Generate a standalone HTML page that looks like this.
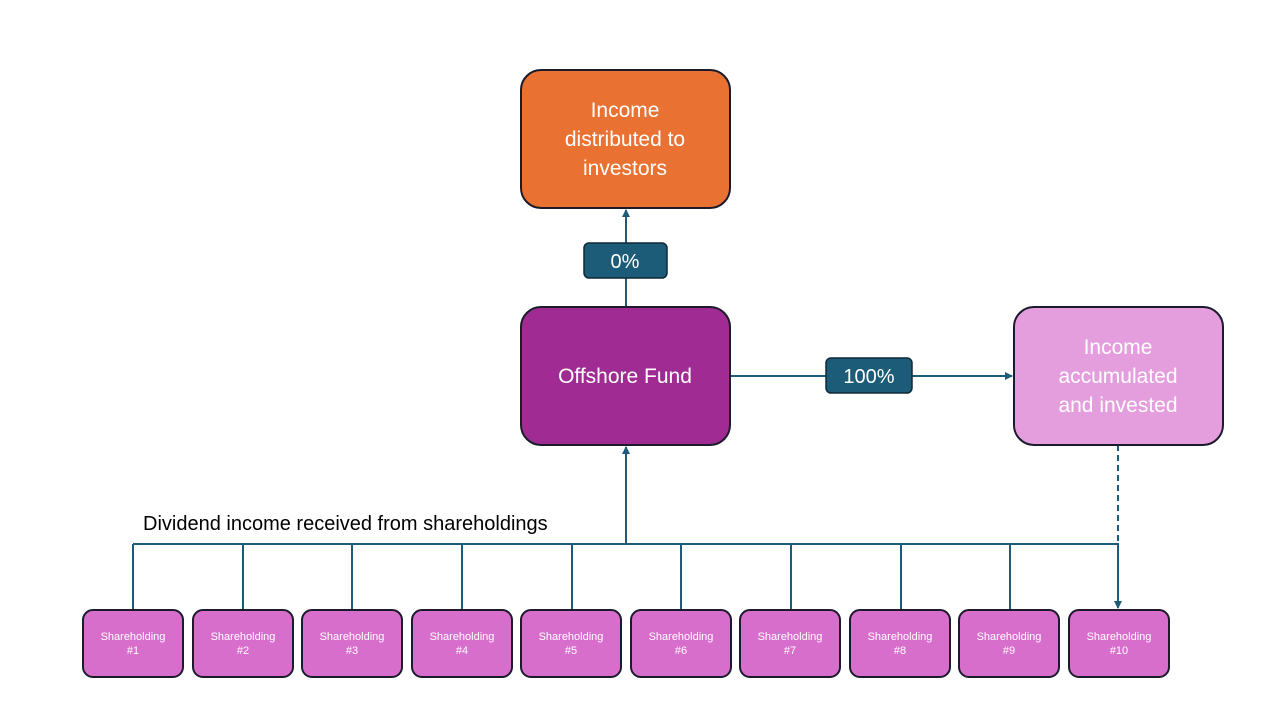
<!DOCTYPE html>
<html><head><style>
body{margin:0;background:#fff;width:1280px;height:720px;overflow:hidden;font-family:"Liberation Sans",sans-serif;}
</style></head><body>
<svg width="1280" height="720" xmlns="http://www.w3.org/2000/svg" font-family="Liberation Sans, sans-serif">
<defs><marker id="a" markerWidth="8" markerHeight="8" refX="7" refY="4" orient="auto" markerUnits="userSpaceOnUse"><path d="M0,0 L8,4 L0,8 z" fill="#1d5c78"/></marker></defs>
<g stroke="#1d5c78" stroke-width="2" fill="none">
<line x1="626" y1="307" x2="626" y2="210" marker-end="url(#a)"/>
<line x1="730" y1="376" x2="1012" y2="376" marker-end="url(#a)"/>
<line x1="626" y1="544" x2="626" y2="447" marker-end="url(#a)"/>
<line x1="133" y1="544" x2="1119" y2="544"/>
<line x1="1118" y1="445" x2="1118" y2="544" stroke-dasharray="6,4"/>
<line x1="1118" y1="544" x2="1118" y2="608" marker-end="url(#a)"/>
<line x1="133" y1="544" x2="133" y2="610"/><line x1="243" y1="544" x2="243" y2="610"/>
<line x1="352" y1="544" x2="352" y2="610"/><line x1="462" y1="544" x2="462" y2="610"/>
<line x1="572" y1="544" x2="572" y2="610"/><line x1="681" y1="544" x2="681" y2="610"/>
<line x1="791" y1="544" x2="791" y2="610"/><line x1="901" y1="544" x2="901" y2="610"/>
<line x1="1010" y1="544" x2="1010" y2="610"/>
</g>
<rect x="521" y="70" width="209" height="138" rx="20" fill="#e97132" stroke="#1b1b2b" stroke-width="2"/>
<text fill="#fff" font-size="21" text-anchor="middle"><tspan x="625" y="117">Income</tspan><tspan x="625" y="146">distributed to</tspan><tspan x="625" y="175">investors</tspan></text>
<rect x="521" y="307" width="209" height="138" rx="20" fill="#a02b93" stroke="#1b1b2b" stroke-width="2"/>
<text x="625" y="383" fill="#fff" font-size="21" text-anchor="middle">Offshore Fund</text>
<rect x="1014" y="307" width="209" height="138" rx="20" fill="#e49edd" stroke="#1b1b2b" stroke-width="2"/>
<text fill="#fff" font-size="21" text-anchor="middle"><tspan x="1118" y="354">Income</tspan><tspan x="1118" y="383">accumulated</tspan><tspan x="1118" y="412">and invested</tspan></text>
<rect x="584" y="243" width="83" height="35" rx="5" fill="#1d5c78" stroke="#0e2a38" stroke-width="1.5"/>
<text x="625" y="268" fill="#fff" font-size="20" text-anchor="middle">0%</text>
<rect x="826" y="358" width="86" height="35" rx="5" fill="#1d5c78" stroke="#0e2a38" stroke-width="1.5"/>
<text x="869" y="383" fill="#fff" font-size="20" text-anchor="middle">100%</text>
<text x="143" y="530" fill="#000" font-size="20">Dividend income received from shareholdings</text>
<g font-size="11" fill="#fff" text-anchor="middle">
<rect x="83" y="610" width="100" height="67" rx="10" fill="#d86ecc" stroke="#1b1b2b" stroke-width="2"/><text x="133" y="640">Shareholding</text><text x="133" y="654">#1</text>
<rect x="193" y="610" width="100" height="67" rx="10" fill="#d86ecc" stroke="#1b1b2b" stroke-width="2"/><text x="243" y="640">Shareholding</text><text x="243" y="654">#2</text>
<rect x="302" y="610" width="100" height="67" rx="10" fill="#d86ecc" stroke="#1b1b2b" stroke-width="2"/><text x="352" y="640">Shareholding</text><text x="352" y="654">#3</text>
<rect x="412" y="610" width="100" height="67" rx="10" fill="#d86ecc" stroke="#1b1b2b" stroke-width="2"/><text x="462" y="640">Shareholding</text><text x="462" y="654">#4</text>
<rect x="521" y="610" width="100" height="67" rx="10" fill="#d86ecc" stroke="#1b1b2b" stroke-width="2"/><text x="571" y="640">Shareholding</text><text x="571" y="654">#5</text>
<rect x="631" y="610" width="100" height="67" rx="10" fill="#d86ecc" stroke="#1b1b2b" stroke-width="2"/><text x="681" y="640">Shareholding</text><text x="681" y="654">#6</text>
<rect x="740" y="610" width="100" height="67" rx="10" fill="#d86ecc" stroke="#1b1b2b" stroke-width="2"/><text x="790" y="640">Shareholding</text><text x="790" y="654">#7</text>
<rect x="850" y="610" width="100" height="67" rx="10" fill="#d86ecc" stroke="#1b1b2b" stroke-width="2"/><text x="900" y="640">Shareholding</text><text x="900" y="654">#8</text>
<rect x="959" y="610" width="100" height="67" rx="10" fill="#d86ecc" stroke="#1b1b2b" stroke-width="2"/><text x="1009" y="640">Shareholding</text><text x="1009" y="654">#9</text>
<rect x="1069" y="610" width="100" height="67" rx="10" fill="#d86ecc" stroke="#1b1b2b" stroke-width="2"/><text x="1119" y="640">Shareholding</text><text x="1119" y="654">#10</text>
</g>
</svg>
</body></html>
